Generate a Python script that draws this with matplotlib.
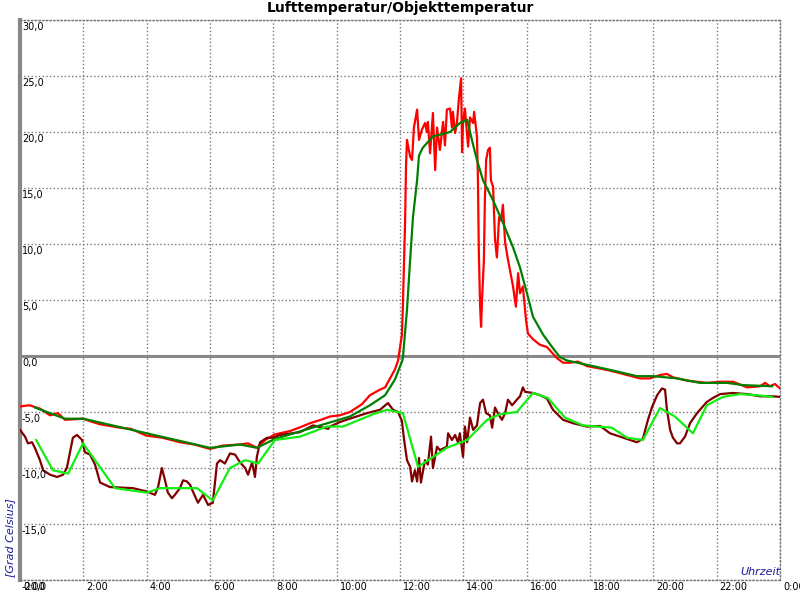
"""
Tagesverlauf Lufttemperatur / Objekttemperatur.
"""
import matplotlib.pyplot as plt

# Lufttemperatur, Rohwerte (Uhrzeit in Stunden, Grad Celsius)
luft_t = [0, 0.3, 0.63, 0.95, 1.2, 1.42, 1.99, 2.3, 2.53, 3.16, 3.5, 3.98, 4.5, 5.05, 5.5, 6.0,
          6.4, 6.95, 7.2, 7.48, 7.74, 8.05, 8.53, 8.9, 9.16, 9.5, 9.79, 10.1, 10.42, 10.8,
          11.05, 11.37, 11.53, 11.84, 11.94, 12.06, 12.09, 12.16, 12.19, 12.22, 12.32,
          12.38, 12.44, 12.54, 12.6, 12.69, 12.79, 12.85, 12.88, 12.95, 13.04, 13.11, 13.17,
          13.26, 13.36, 13.42, 13.48, 13.58, 13.64, 13.67, 13.74, 13.8, 13.86, 13.93, 13.96,
          13.99, 14.05, 14.12, 14.15, 14.21, 14.31, 14.34, 14.43, 14.46, 14.49, 14.53, 14.56,
          14.59, 14.65, 14.68, 14.72, 14.78, 14.84, 14.87, 14.94, 15.0, 15.06, 15.13, 15.19,
          15.25, 15.32, 15.41, 15.47, 15.57, 15.66, 15.73, 15.79, 15.88, 15.92, 15.98, 16.04,
          16.2, 16.42, 16.64, 16.83, 16.96, 17.15, 17.37, 17.62, 17.9, 18.09, 18.63, 19.17,
          19.58, 19.89, 20.21, 20.43, 20.62, 21.06, 21.69, 22.11, 22.52, 22.96, 23.37, 23.53,
          23.68, 23.84, 24.0]
luft_v = [-4.5, -4.4, -4.7, -5.3, -5.1, -5.7, -5.6, -5.9, -6.1, -6.4, -6.5, -7.1, -7.3, -7.7,
          -7.9, -8.3, -8.0, -7.9, -7.8, -8.2, -7.5, -7.0, -6.7, -6.3, -6.0, -5.7, -5.4, -5.3,
          -5.0, -4.3, -3.5, -3.0, -2.8, -1.2, -0.4, 1.9, 4.4, 11.9, 16.9, 19.3, 17.8, 17.5,
          20.4, 22.0, 19.3, 20.2, 20.8, 20.0, 20.9, 18.1, 21.7, 16.6, 20.4, 18.4, 20.9, 18.8,
          22.0, 22.1, 20.4, 21.8, 19.9, 20.9, 23.0, 24.8, 18.2, 20.8, 22.1, 19.7, 18.7, 21.3,
          20.8, 21.8, 19.6, 16.0, 9.2, 4.4, 2.6, 5.0, 8.6, 13.9, 17.5, 18.4, 18.6, 15.7, 15.1,
          10.4, 8.8, 12.4, 12.1, 13.5, 10.1, 8.6, 7.7, 6.2, 4.4, 7.4, 5.6, 6.2, 5.0, 3.2, 2.0,
          1.5, 1.0, 0.8, 0.2, -0.2, -0.6, -0.6, -0.5, -0.9, -1.0, -1.3, -1.7, -2.0, -2.0, -1.7,
          -1.6, -1.9, -2.2, -2.4, -2.3, -2.3, -2.8, -2.7, -2.4, -2.7, -2.5, -2.9]

# Lufttemperatur, geglaettet
luft_glatt_t = [0.47, 1.42, 2.0, 6.0, 6.95, 7.48, 8.05, 8.53, 9.47, 10.42, 11.05, 11.53, 11.84,
                12.06, 12.09, 12.22, 12.32, 12.41, 12.54, 12.6, 12.72, 13.04, 13.58, 13.89,
                14.12, 14.27, 14.43, 14.62, 14.94, 15.25, 15.57, 15.79, 16.01, 16.2, 16.52,
                16.83, 17.05, 17.27, 18.09, 18.73, 19.48, 19.99, 20.75, 21.47, 22.33, 22.83,
                23.75]
luft_glatt_v = [-4.6, -5.6, -5.6, -8.2, -7.9, -8.2, -7.4, -7.0, -6.2, -5.4, -4.4, -3.5, -2.1,
                -0.5, -0.2, 4.1, 8.6, 12.4, 15.7, 17.9, 18.6, 19.6, 20.0, 20.8, 21.1, 19.3,
                17.5, 15.7, 13.9, 11.9, 9.7, 7.9, 5.6, 3.5, 1.9, 0.7, -0.1, -0.4, -0.9, -1.3,
                -1.8, -1.8, -2.0, -2.4, -2.4, -2.6, -2.7]

# Objekttemperatur, Rohwerte
obj_t = [0, 0.16, 0.25, 0.38, 0.47, 0.63, 0.73, 0.95, 1.17, 1.36, 1.48, 1.58, 1.67, 1.8, 1.96,
         2.05, 2.21, 2.37, 2.53, 2.84, 3.57, 4.01, 4.26, 4.36, 4.48, 4.58, 4.67, 4.8, 4.89,
         5.05, 5.15, 5.27, 5.37, 5.46, 5.62, 5.78, 5.94, 6.09, 6.22, 6.32, 6.47, 6.63, 6.79,
         6.95, 7.11, 7.2, 7.33, 7.42, 7.48, 7.58, 7.8, 7.99, 8.21, 8.84, 9.25, 9.73, 9.79,
         10.1, 10.52, 10.96, 11.37, 11.62, 11.78, 11.94, 12.06, 12.13, 12.22, 12.32, 12.38,
         12.47, 12.54, 12.6, 12.66, 12.79, 12.88, 12.98, 13.04, 13.17, 13.26, 13.48, 13.52,
         13.64, 13.74, 13.83, 13.89, 13.99, 14.05, 14.12, 14.21, 14.31, 14.43, 14.53, 14.62,
         14.72, 14.84, 14.91, 15.0, 15.09, 15.22, 15.32, 15.41, 15.54, 15.69, 15.79, 15.88,
         15.95, 16.2, 16.42, 16.64, 16.83, 17.15, 17.46, 17.9, 18.32, 18.63, 18.95, 19.48,
         19.67, 19.83, 19.96, 20.12, 20.27, 20.37, 20.43, 20.53, 20.62, 20.75, 20.84, 21.0,
         21.16, 21.38, 21.69, 21.88, 22.11, 22.52, 22.96, 23.37, 23.78, 24.0]
obj_v = [-6.6, -7.2, -7.8, -7.7, -8.2, -9.3, -10.2, -10.6, -10.8, -10.6, -10.0, -8.6, -7.3,
         -7.05, -7.5, -8.6, -8.8, -9.7, -11.3, -11.7, -11.8, -12.1, -12.4, -11.7, -10.0, -11.1,
         -12.2, -12.7, -12.4, -11.8, -11.1, -11.2, -11.5, -12.1, -13.1, -12.4, -13.3, -13.1,
         -9.6, -9.3, -9.6, -8.7, -8.8, -9.5, -10.0, -10.6, -9.5, -10.8, -9.0, -7.7, -7.3,
         -7.3, -7.05, -6.8, -6.2, -6.5, -6.3, -5.9, -5.5, -5.1, -4.8, -4.2, -4.8, -5.0, -5.8,
         -7.5, -9.3, -9.9, -11.2, -10.2, -11.2, -9.1, -11.3, -9.3, -9.7, -7.2, -10.0, -8.1,
         -8.4, -8.1, -6.9, -7.5, -7.05, -7.7, -6.9, -9.0, -6.3, -7.7, -5.5, -6.6, -6.2, -4.2,
         -3.9, -5.1, -5.3, -6.4, -4.6, -5.1, -5.7, -5.1, -3.9, -4.4, -3.9, -3.6, -2.8, -3.2,
         -3.3, -3.5, -3.8, -4.8, -5.7, -6.0, -6.3, -6.25, -6.9, -7.2, -7.7, -7.4, -5.7, -4.55,
         -3.5, -2.9, -3.0, -4.8, -6.6, -7.3, -7.8, -7.8, -7.2, -6.0, -5.1, -4.1, -3.75, -3.4,
         -3.3, -3.4, -3.6, -3.6, -3.65]

# Objekttemperatur, geglaettet
obj_glatt_t = [0.51, 1.04, 1.52, 1.99, 3.0, 4.01, 4.42, 5.59, 6.09, 6.63, 7.11, 7.52, 8.05,
               8.84, 9.69, 10.2, 11.15, 11.59, 12.09, 12.57, 13.48, 14.12, 14.75, 15.16, 15.69,
               16.2, 16.67, 17.21, 17.78, 18.69, 19.17, 19.67, 20.21, 20.68, 21.25, 21.69,
               22.2, 22.74, 23.27, 23.75]
obj_glatt_v = [-7.5, -10.2, -10.5, -7.8, -11.8, -12.2, -11.8, -11.8, -12.9, -10.0, -9.3, -9.6,
               -7.5, -7.2, -6.3, -6.3, -5.2, -4.8, -5.1, -9.9, -8.2, -7.5, -5.7, -5.2, -5.0,
               -3.3, -3.75, -5.5, -6.2, -6.4, -7.3, -7.5, -4.65, -5.4, -6.9, -4.4, -3.65, -3.4,
               -3.5, -3.65]

y_ticks = list(range(-20, 35, 5))
x_ticks = list(range(0, 25, 2))
x_labels = [f"{h % 24}:00" for h in x_ticks]

fig = plt.figure(figsize=(8, 6), dpi=100)
ax = fig.add_axes([20 / 800, 20 / 600, 760 / 800, 560 / 600])

ax.plot(luft_t, luft_v, color="#ff0000", lw=1.6, zorder=3)
ax.plot(obj_t, obj_v, color="#800000", lw=1.6, zorder=3)
ax.plot(luft_glatt_t, luft_glatt_v, color="#008000", lw=1.6, zorder=4)
ax.plot(obj_glatt_t, obj_glatt_v, color="#11ee11", lw=1.6, zorder=4)

ax.axhline(0, color="#888888", lw=2.2, zorder=2)

ax.set_xlim(0, 24)
ax.set_ylim(-20, 30)
ax.set_xticks(x_ticks)
ax.set_yticks(y_ticks)
ax.tick_params(length=0, labelleft=False, labelbottom=False)
ax.grid(True, ls=":", color="#777777", lw=1)

for side in ["top", "right", "bottom"]:
    ax.spines[side].set_linestyle(":")
    ax.spines[side].set_color("#777777")
    ax.spines[side].set_linewidth(1)
ax.spines["left"].set_color("#888888")
ax.spines["left"].set_linewidth(3)

# Achsenbeschriftungen innerhalb des Diagramms
for v in y_ticks:
    ax.annotate(f"{v:.1f}".replace(".", ","), xy=(0, v), xycoords=("axes fraction", "data"),
                xytext=(2, -2), textcoords="offset pixels", ha="left", va="top",
                fontsize=7, annotation_clip=False)
for h, lbl in zip(x_ticks, x_labels):
    ax.annotate(lbl, xy=(h, 0), xycoords=("data", "axes fraction"),
                xytext=(3, -2), textcoords="offset pixels", ha="left", va="top",
                fontsize=7, annotation_clip=False)

ax.text(1.0, 0.005, "Uhrzeit", transform=ax.transAxes, ha="right", va="bottom",
        fontsize=8, style="italic", color="#1a1a99")
fig.text(10 / 800, 23 / 600, "[Grad Celsius]", rotation=90, ha="center", va="bottom",
         fontsize=8, style="italic", color="#1a1a99")
fig.text(0.5, 1 - 8 / 600, "Lufttemperatur/Objekttemperatur", ha="center", va="center",
         fontsize=10, fontweight="bold")

fig.savefig("out.png", dpi=100)
